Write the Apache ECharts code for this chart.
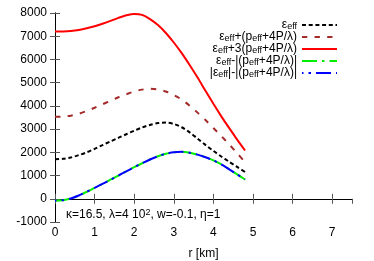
<!DOCTYPE html>
<html>
<head>
<meta charset="utf-8">
<script src="https://cdn.jsdelivr.net/npm/echarts@6/dist/echarts.min.js"></script>
<style>html,body{margin:0;padding:0;background:#fff}#c{width:374px;height:261px}</style>
</head>
<body>
<div id="c"></div>
<script>
// radius grid [km]
const R = [0, 0.2, 0.4, 0.6, 0.8, 1.0, 1.2, 1.4, 1.6, 1.8, 2.0, 2.2, 2.4, 2.6, 2.8, 3.0, 3.2, 3.4, 3.6, 3.8, 4.0, 4.2, 4.4, 4.6, 4.8];
// eps_eff
const epsEff = [1700, 1720, 1780, 1880, 2000, 2150, 2310, 2470, 2620, 2780, 2930, 3070, 3180, 3260, 3280, 3220, 3080, 2860, 2590, 2320, 2060, 1820, 1590, 1370, 1150];
// eps_eff + (p_eff + 4P/lambda)
const epsPlus1 = [3530, 3540, 3580, 3660, 3780, 3920, 4070, 4220, 4370, 4500, 4620, 4700, 4740, 4710, 4620, 4470, 4270, 4010, 3710, 3390, 3050, 2700, 2340, 1960, 1580];
// eps_eff + 3(p_eff + 4P/lambda)
const epsPlus3 = [7200, 7205, 7225, 7270, 7340, 7430, 7540, 7660, 7790, 7900, 7960, 7920, 7740, 7480, 7140, 6730, 6270, 5760, 5220, 4650, 4090, 3550, 3040, 2550, 2080];
// eps_eff - |p_eff + 4P/lambda|
const epsMinus = [-80, -60, 10, 140, 300, 470, 640, 820, 1000, 1180, 1360, 1530, 1690, 1830, 1940, 2000, 2020, 1980, 1900, 1790, 1650, 1480, 1270, 1050, 830];
// |eps_eff| - |p_eff + 4P/lambda|
const absEpsMinus = [-80, -60, 10, 140, 300, 470, 640, 820, 1000, 1180, 1360, 1530, 1690, 1830, 1940, 2000, 2020, 1980, 1900, 1790, 1650, 1480, 1270, 1050, 830];

const xTicks = [0, 1, 2, 3, 4, 5, 6, 7];
const yTicks = [-1000, 0, 1000, 2000, 3000, 4000, 5000, 6000, 7000, 8000];

const seriesNames = ['s1', 's2', 's3', 's4', 's5'];
const legendRich = {
  s1: '{n|ε}{s|eff}',
  s2: '{n|ε}{s|eff}{n|+(p}{s|eff}{n|+4P/λ)}',
  s3: '{n|ε}{s|eff}{n|+3(p}{s|eff}{n|+4P/λ)}',
  s4: '{n|ε}{s|eff}{n|-|(p}{s|eff}{n|+4P/λ)|}',
  s5: '{n||ε}{s|eff}{n||-|(p}{s|eff}{n|+4P/λ)|}'
};

const FONT = 'Liberation Sans';
const pairs = (ys) => R.map((r, i) => [r, ys[i]]);

const chart = echarts.init(document.getElementById('c'));
const axisCommon = {
  axisLine: { show: true, lineStyle: { color: '#000', width: 1 } },
  axisTick: { show: true, inside: true, length: 5, lineStyle: { color: '#555' } },
  splitLine: { show: false }
};
chart.setOption({
  animation: false,
  backgroundColor: '#fff',
  grid: { left: 55, right: 22, top: 13, bottom: 39, outerBoundsMode: 'none', containLabel: false },
  title: {
    text: '{a|κ=16.5, λ=4 10}{b|2}{a|, w=-0.1, η=1}',
    left: 66, top: 208, padding: 0,
    textStyle: {
      fontWeight: 'normal',
      rich: {
        a: { fontFamily: FONT, fontSize: 12, fontWeight: 'normal', lineHeight: 14, color: '#000' },
        b: { fontFamily: FONT, fontSize: 9, fontWeight: 'normal', lineHeight: 8, verticalAlign: 'top', color: '#000' }
      }
    }
  },
  legend: {
    data: seriesNames,
    orient: 'vertical',
    right: 36, top: 19, padding: 0,
    align: 'right',
    itemWidth: 35, itemHeight: 12, itemGap: 0,
    selectedMode: false,
    itemStyle: { opacity: 0, borderWidth: 0 },
    formatter: (name) => legendRich[name],
    textStyle: {
      fontFamily: FONT, fontSize: 12, color: '#000',
      rich: {
        n: { fontFamily: FONT, fontSize: 12, lineHeight: 12, color: '#000' },
        s: { fontFamily: FONT, fontSize: 9, lineHeight: 7, verticalAlign: 'bottom', color: '#000' }
      }
    }
  },
  xAxis: [
    Object.assign({
      type: 'value', min: 0, max: 7.5, interval: 1, position: 'bottom',
      name: 'r [km]', nameLocation: 'middle', nameGap: 26,
      nameTextStyle: { fontFamily: FONT, fontSize: 12, color: '#000' },
      axisLabel: {
        margin: 5, fontFamily: FONT, fontSize: 12, color: '#000', showMaxLabel: false,
        formatter: (v) => (xTicks.indexOf(v) >= 0 ? String(v) : '')
      }
    }, axisCommon),
    Object.assign({
      type: 'value', min: 0, max: 7.5, interval: 1, position: 'top',
      axisLabel: { show: false }
    }, axisCommon)
  ],
  yAxis: [
    Object.assign({
      type: 'value', min: -1000, max: 8000, interval: 1000, position: 'left',
      axisLabel: {
        margin: 8, fontFamily: FONT, fontSize: 12, color: '#000',
        formatter: (v) => (yTicks.indexOf(v) >= 0 ? String(v) : '')
      }
    }, axisCommon),
    Object.assign({
      type: 'value', min: -1000, max: 8000, interval: 1000, position: 'right',
      axisLabel: { show: false }
    }, axisCommon)
  ],
  series: [
    { name: 's1', type: 'line', data: pairs(epsEff), smooth: 0.3, symbol: 'none', showSymbol: false, z: 3,
      lineStyle: { color: '#000', width: 2, type: [4, 2.7] }, itemStyle: { color: '#000' } },
    { name: 's2', type: 'line', data: pairs(epsPlus1), smooth: 0.3, symbol: 'none', showSymbol: false, z: 3,
      lineStyle: { color: '#a52a2a', width: 2, type: [5.3, 7.3] }, itemStyle: { color: '#a52a2a' } },
    { name: 's3', type: 'line', data: pairs(epsPlus3), smooth: 0.3, symbol: 'none', showSymbol: false, z: 3,
      lineStyle: { color: '#ff0000', width: 2, type: 'solid' }, itemStyle: { color: '#ff0000' } },
    { name: 's4', type: 'line', data: pairs(epsMinus), smooth: 0.3, symbol: 'none', showSymbol: false, z: 3,
      lineStyle: { color: '#00ee00', width: 2, type: [15, 5, 2.5, 5] }, itemStyle: { color: '#00ee00' } },
    { name: 's5', type: 'line', data: pairs(absEpsMinus), smooth: 0.3, symbol: 'none', showSymbol: false, z: 4,
      lineStyle: { color: '#0000ff', width: 2, type: [15, 5, 2.5, 5], dashOffset: 13.5 }, itemStyle: { color: '#0000ff' } }
  ]
});
</script>
</body>
</html>
